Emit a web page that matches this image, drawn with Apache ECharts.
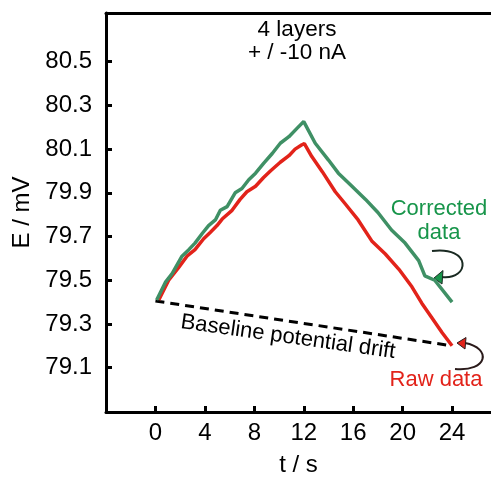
<!DOCTYPE html>
<html>
<head>
<meta charset="utf-8">
<script src="https://cdn.jsdelivr.net/npm/echarts@6/dist/echarts.min.js"></script>
<style>
  html, body { margin: 0; padding: 0; background: #fff; }
  #chart { width: 491px; height: 477px; }
</style>
</head>
<body>
<div id="chart"></div>
<script>
// tick labels
var xTicks = [0, 4, 8, 12, 16, 20, 24];
var yTicks = [79.1, 79.3, 79.5, 79.7, 79.9, 80.1, 80.3, 80.5];

// raw data (t / s, E / mV)
var rawT = [0.27, 1.07, 1.9, 2.55, 3.2, 3.9, 4.45, 4.98, 5.4, 6.2, 6.85, 7.4, 8.1, 8.75, 9.3, 10.1, 10.8, 11.3, 11.85, 12.05,
            12.65, 13.5, 14.55, 15.35, 16.4, 17.5, 18.6, 19.7, 20.75, 21.55, 22.35, 23.2, 24.0];
var rawE = [79.41, 79.50, 79.56, 79.61, 79.64, 79.69, 79.72, 79.75, 79.78, 79.82, 79.87, 79.905, 79.93, 79.97, 80.0, 80.04, 80.07, 80.10, 80.12, 80.125,
            80.066, 79.997, 79.905, 79.85, 79.776, 79.68, 79.62, 79.55, 79.47, 79.395, 79.33, 79.26, 79.20];

// corrected data
var corrT = [0.1, 0.8, 1.35, 2.15, 2.7, 3.2, 3.8, 4.3, 4.85, 5.25, 5.8, 6.45, 7.0, 7.55, 8.1, 8.75, 9.45, 10.1, 10.8, 11.45, 12.0,
             12.93, 14.0, 14.8, 15.9, 17.0, 18.0, 19.1, 20.2, 21.3, 21.8, 22.6, 24.0];
var corrE = [79.41, 79.49, 79.53, 79.61, 79.64, 79.67, 79.715, 79.75, 79.776, 79.82, 79.837, 79.90, 79.92, 79.96, 79.99, 80.035, 80.08, 80.127, 80.157, 80.195, 80.226,
             80.127, 80.05, 79.99, 79.93, 79.87, 79.81, 79.73, 79.67, 79.59, 79.52, 79.50, 79.40];

// baseline potential drift
var baseT = [0, 24];
var baseE = [79.405, 79.20];

function pairs(xs, ys) {
    return xs.map(function (x, i) { return [x, ys[i]]; });
}

var FONT = 'Liberation Sans, Arial, Helvetica, sans-serif';
var chart = echarts.init(document.getElementById('chart'), null, {renderer: 'canvas'});

var option = {
    animation: false,
    grid: {left: 106, top: 13, right: 0, bottom: 65, show: false, containLabel: false, outerBoundsMode: 'none'},
    xAxis: [{
        type: 'value',
        min: -4,
        max: 27.15,
        name: 't / s',
        nameLocation: 'middle',
        nameGap: 41,
        nameTextStyle: {fontSize: 24, color: '#000', fontFamily: FONT},
        axisLine: {onZero: false, lineStyle: {color: '#000', width: 3}},
        axisTick: {inside: true, length: 6, lineStyle: {width: 3, color: '#000'}, customValues: xTicks},
        axisLabel: {fontSize: 24, color: '#000', fontFamily: FONT, margin: 9, customValues: xTicks},
        splitLine: {show: false}
    }, {
        type: 'value',
        position: 'top',
        min: -4,
        max: 27.15,
        axisLine: {onZero: false, lineStyle: {color: '#000', width: 3}},
        axisTick: {show: false},
        axisLabel: {show: false},
        splitLine: {show: false}
    }],
    yAxis: {
        type: 'value',
        min: 78.897,
        max: 80.723,
        name: 'E / mV',
        nameLocation: 'middle',
        nameGap: 66,
        nameTextStyle: {fontSize: 24, color: '#000', fontFamily: FONT},
        axisLine: {onZero: false, lineStyle: {color: '#000', width: 3}},
        axisTick: {inside: true, length: 6, lineStyle: {width: 3, color: '#000'}, customValues: yTicks},
        axisLabel: {fontSize: 24, color: '#000', fontFamily: FONT, margin: 14, customValues: yTicks,
            formatter: function (v) { return v.toFixed(1); }},
        splitLine: {show: false}
    },
    series: [{
        name: 'Baseline',
        type: 'line',
        data: pairs(baseT, baseE),
        showSymbol: false,
        lineStyle: {color: '#000', width: 3, type: [9, 6]}
    }, {
        name: 'Raw data',
        type: 'line',
        data: pairs(rawT, rawE),
        showSymbol: false,
        lineStyle: {color: '#e2231a', width: 3.5}
    }, {
        name: 'Corrected data',
        type: 'line',
        data: pairs(corrT, corrE),
        showSymbol: false,
        lineStyle: {color: '#3f9065', width: 3.5}
    }],
    graphic: [
        {type: 'text', x: 297, y: 18,
         style: {text: '4 layers\n+ / -10 nA', font: '22.5px ' + FONT, fill: '#000', align: 'center', verticalAlign: 'top', lineHeight: 23}},
        {type: 'text', x: 288, y: 337, rotation: -0.14,
         style: {text: 'Baseline potential drift', font: '22px ' + FONT, fill: '#000', align: 'center', verticalAlign: 'middle'}},
        {type: 'text', x: 439, y: 245,
         style: {text: 'Corrected\ndata', font: '22px ' + FONT, fill: '#17954a', align: 'center', verticalAlign: 'bottom', lineHeight: 24}},
        {type: 'text', x: 436, y: 391,
         style: {text: 'Raw data', font: '22px ' + FONT, fill: '#e2231a', align: 'center', verticalAlign: 'bottom'}},
        // arrow to corrected data
        {type: 'bezierCurve',
         shape: {x1: 432, y1: 251, cpx1: 472, cpy1: 246, cpx2: 470, cpy2: 280, x2: 442, y2: 277},
         style: {stroke: '#1a2a22', lineWidth: 2, fill: null}},
        {type: 'polygon',
         shape: {points: [[434, 278], [443, 270.5], [442, 284]]},
         style: {fill: '#17954a', stroke: '#1a2a22', lineWidth: 1}},
        // arrow to raw data
        {type: 'bezierCurve',
         shape: {x1: 465, y1: 343, cpx1: 492, cpy1: 348, cpx2: 488, cpy2: 372, x2: 455, y2: 369},
         style: {stroke: '#2a1a1a', lineWidth: 2, fill: null}},
        {type: 'polygon',
         shape: {points: [[457, 343], [466, 337.5], [465, 349]]},
         style: {fill: '#e2231a', stroke: '#2a1a1a', lineWidth: 1}}
    ]
};
chart.setOption(option);
</script>
</body>
</html>
